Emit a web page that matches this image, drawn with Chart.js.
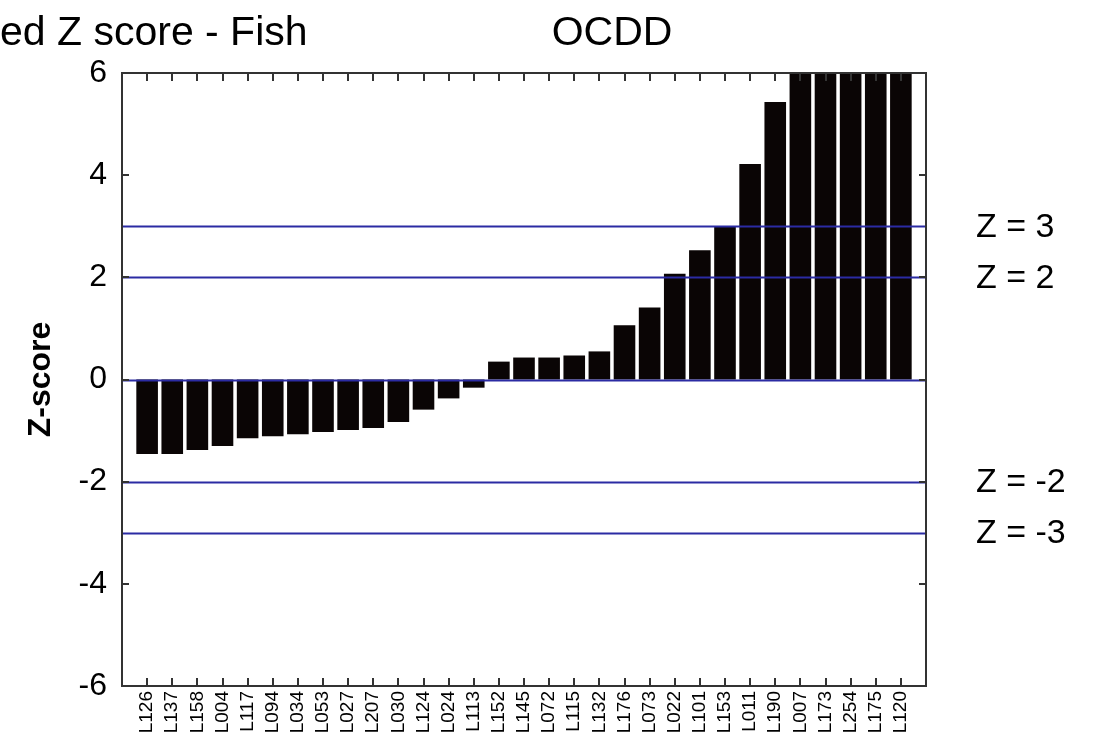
<!DOCTYPE html>
<html>
<head>
<meta charset="utf-8">
<script src="https://cdn.jsdelivr.net/npm/chart.js@4.4.1/dist/chart.umd.min.js"></script>
<style>
  html, body { margin: 0; padding: 0; background: #fff; }
  #wrap { width: 1098px; height: 747px; }
</style>
</head>
<body>
<div id="wrap"><canvas id="zChart"></canvas></div>
<script>
// lab codes, sorted by z-score
const categories = [
  "L126", "L137", "L158", "L004", "L117", "L094", "L034", "L053", "L027", "L207",
  "L030", "L124", "L024", "L113", "L152", "L145", "L072", "L115", "L132", "L176",
  "L073", "L022", "L101", "L153", "L011", "L190", "L007", "L173", "L254", "L175", "L120",
];
// last five run off the top of the plot, values above 6 are guesses
const zScores = [
  -1.46, -1.46, -1.38, -1.30, -1.15, -1.11, -1.07, -1.03, -0.99, -0.95,
  -0.83, -0.59, -0.37, -0.16, 0.35, 0.43, 0.43, 0.47, 0.55, 1.06,
  1.41, 2.07, 2.53, 3.00, 4.22, 5.43, 6.6, 7.2, 8.1, 9.5, 11.3,
];
const yTicks = [-6, -4, -2, 0, 2, 4, 6];
const refLines = [3, 2, 0, -2, -3];
const refLabels = ["Z = 3", "Z = 2", "", "Z = -2", "Z = -3"];

const FONT = "'Liberation Sans', Arial, Helvetica, sans-serif";

// frame, inward ticks, reference lines and side labels
const decorations = {
  id: "decorations",
  afterDatasetsDraw(chart) {
    const { ctx, chartArea: a, scales: { x, y } } = chart;
    ctx.save();

    // blue reference lines over the bars
    ctx.strokeStyle = "#2b2ba3";
    ctx.lineWidth = 2;
    refLines.forEach(v => {
      const py = Math.round(y.getPixelForValue(v)) + 0.5;
      ctx.beginPath();
      ctx.moveTo(a.left, py);
      ctx.lineTo(a.right, py);
      ctx.stroke();
    });

    // frame
    ctx.strokeStyle = "#333";
    ctx.lineWidth = 2;
    ctx.strokeRect(a.left, a.top, a.right - a.left, a.bottom - a.top);

    // inward ticks
    ctx.lineWidth = 2;
    categories.forEach((c, i) => {
      const px = Math.round(x.getPixelForValue(i + 1));
      ctx.beginPath();
      ctx.moveTo(px, a.top); ctx.lineTo(px, a.top + 8);
      ctx.moveTo(px, a.bottom); ctx.lineTo(px, a.bottom - 8);
      ctx.stroke();
    });
    yTicks.forEach(v => {
      const py = Math.round(y.getPixelForValue(v));
      ctx.beginPath();
      ctx.moveTo(a.left, py); ctx.lineTo(a.left + 7, py);
      ctx.moveTo(a.right, py); ctx.lineTo(a.right - 7, py);
      ctx.stroke();
    });

    // labels to the right of the plot
    ctx.fillStyle = "#000";
    ctx.font = "34px " + FONT;
    ctx.textAlign = "left";
    ctx.textBaseline = "middle";
    refLines.forEach((v, i) => {
      if (refLabels[i]) ctx.fillText(refLabels[i], a.right + 50, y.getPixelForValue(v) + 1);
    });

    // titles (the left one is cut off in the original)
    ctx.font = "41px " + FONT;
    ctx.textBaseline = "alphabetic";
    ctx.fillText("ed Z score - Fish", 0, 45);
    ctx.textAlign = "center";
    ctx.fillText("OCDD", 612, 45);

    ctx.restore();
  }
};

const ctx = document.getElementById("zChart").getContext("2d");
new Chart(ctx, {
  type: "bar",
  data: {
    datasets: [{
      label: "Z-score",
      data: categories.map((c, i) => ({ x: i + 1, y: zScores[i] })),
      backgroundColor: "#0a0505",
      borderWidth: 0,
      categoryPercentage: 1.0,
      barPercentage: 0.86,
    }],
  },
  options: {
    responsive: true,
    maintainAspectRatio: false,
    animation: false,
    layout: { padding: { top: 73, right: 172, bottom: 0, left: 18 } },
    plugins: {
      legend: { display: false },
      tooltip: { enabled: false },
    },
    scales: {
      x: {
        type: "linear",
        offset: false,
        min: 0,
        max: categories.length + 1,
        grid: { display: false, drawTicks: false, offset: false },
        border: { display: false },
        ticks: {
          stepSize: 1,
          autoSkip: false,
          minRotation: 90,
          maxRotation: 90,
          padding: 5,
          color: "#000",
          font: { family: FONT, size: 19 },
          callback: v => categories[v - 1] || "",
        },
        afterFit: s => { s.height = 61; },
      },
      y: {
        min: -6,
        max: 6,
        grid: { display: false, drawTicks: false },
        border: { display: false },
        ticks: {
          stepSize: 2,
          padding: 15,
          color: "#000",
          font: { family: FONT, size: 32 },
        },
        title: {
          display: true,
          text: "Z-score",
          color: "#000",
          font: { family: FONT, size: 32, weight: "bold" },
          padding: { top: 4, bottom: 4 },
        },
        afterFit: s => { s.width = 104; },
      },
    },
  },
  plugins: [decorations],
});
</script>
</body>
</html>
